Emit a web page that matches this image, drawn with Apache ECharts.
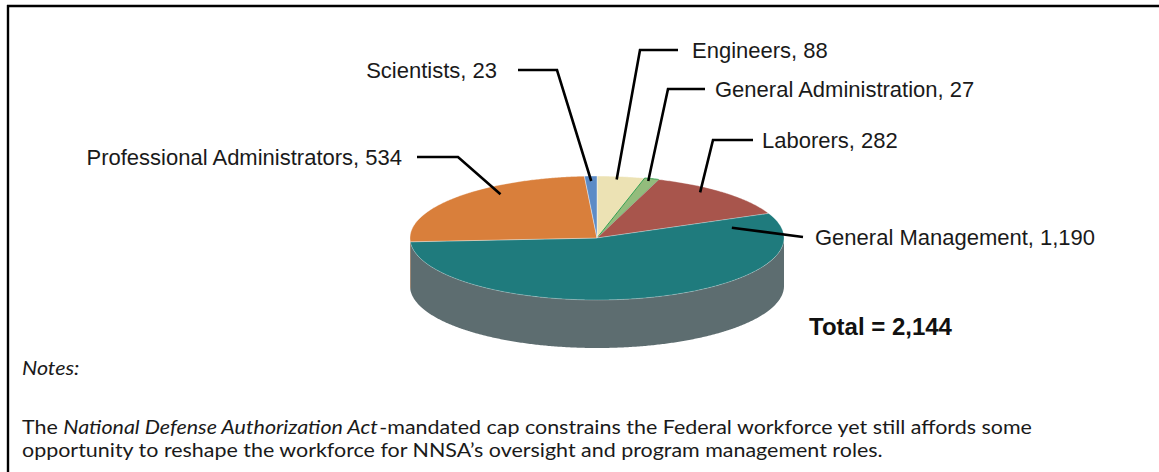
<!DOCTYPE html>
<html>
<head>
<meta charset="utf-8">
<script src="https://cdn.jsdelivr.net/npm/echarts@6/dist/echarts.min.js"></script>
<style>
  html, body { margin: 0; padding: 0; background: #ffffff; }
  #chart { width: 1159px; height: 472px; }
</style>
</head>
<body>
<div id="chart"></div>
<script>
// Federal workforce headcount by occupational group (clockwise from 12 o'clock)
const categories = ['Engineers', 'General Administration', 'Laborers', 'General Management', 'Professional Administrators', 'Scientists'];
const headcounts = [88, 27, 282, 1190, 534, 23];

// Slice colours: top face, rim (side wall) and slice outline
const topColors  = ['#ECE2B4', '#93BC7C', '#A8554C', '#1F7B7D', '#D97F3B', '#5C8BC6'];
const sideColors = ['#BDB48C', '#6E9158', '#7E3E37', '#5D6D70', '#A85E29', '#456A98'];
const edgeColors = ['rgba(255,255,255,0.5)', '#36A050', 'rgba(255,255,255,0.35)', 'rgba(255,255,255,0.25)', 'rgba(255,255,255,0.35)', 'rgba(255,255,255,0.4)'];

// Note text beneath the chart
const notesHeading = 'Notes:';
const noteLine1 = ['The ', 'National Defense Authorization Act', '-mandated cap constrains the Federal workforce yet still affords some'];
const noteLine2 = 'opportunity to reshape the workforce for NNSA\u2019s oversight and program management roles.';

// Tilted pie geometry (ellipse radii and rim depth in px)
const pie = { cx: 597, cy: 238, rx: 187, ry: 62, depth: 48, startAngle: 0 };

// Leader-line layout, offsets relative to the pie centre.
// at: position along the slice's arc (0..1), r: fraction of radius for the anchor
const labelLayout = {
  'Scientists':                  { at: 0.50, r: 0.92,  elbow: [-40, -168], tail: [-79, -168],  text: [-100, -168], align: 'right' },
  'Engineers':                   { at: 0.43, r: 0.95,  elbow: [43, -188],  tail: [81, -188],   text: [95, -188],   align: 'left' },
  'General Administration':      { at: 0.40, r: 0.96,  elbow: [71, -149],  tail: [108, -149],  text: [118, -149],  align: 'left' },
  'Laborers':                    { at: 0.37, r: 0.92,  elbow: [116, -98],  tail: [156, -98],   text: [165, -98],   align: 'left' },
  'General Management':          { at: 0.052, r: 0.74, elbow: [206, -1],   tail: [206, -1],    text: [218, -1],    align: 'left' },
  'Professional Administrators': { at: 0.64, r: 0.875, elbow: [-139, -81], tail: [-180, -81],  text: [-195, -81],  align: 'right' }
};

const labelFont = "22px 'Liberation Sans', Arial, sans-serif";
// Notes are set in Lato, widened slightly to the width of the original face
const noteFont = "'Lato', 'Carlito', Calibri, sans-serif";
const noteSize = 18.5;
const noteStretch = 1.16;

const total = headcounts.reduce((a, b) => a + b, 0);
const fmt = v => v.toLocaleString('en-US');

// point on the top (dy = 0) or bottom (dy = depth) rim; theta clockwise from 12 o'clock
function rimPoint(theta, r, dy) {
  const t = theta * Math.PI / 180;
  return [pie.cx + r * pie.rx * Math.sin(t), pie.cy - r * pie.ry * Math.cos(t) + (dy || 0)];
}
function arcPoints(a0, a1, dy) {
  const n = Math.max(2, Math.ceil(Math.abs(a1 - a0) * 2));
  const pts = [];
  for (let k = 0; k <= n; k++) pts.push(rimPoint(a0 + (a1 - a0) * k / n, 1, dy));
  return pts;
}

function renderSlice(params, api) {
  const i = params.dataIndex;
  let before = 0;
  for (let j = 0; j < i; j++) before += headcounts[j];
  const value = api.value(0);
  const a0 = pie.startAngle + before / total * 360;
  const a1 = a0 + value / total * 360;
  const children = [];

  // visible rim wall: the front half of the pie (3 o'clock through 9 o'clock)
  const s = Math.max(a0, 90), e = Math.min(a1, 270);
  if (e > s) {
    const pts = arcPoints(s, e, 0).concat(arcPoints(e, s, pie.depth));
    children.push({
      type: 'polygon', z2: 1, shape: { points: pts },
      style: { fill: sideColors[i] }
    });
  }

  // top face
  children.push({
    type: 'polygon', z2: 10,
    shape: { points: [[pie.cx, pie.cy]].concat(arcPoints(a0, a1, 0)) },
    style: { fill: topColors[i], stroke: edgeColors[i], lineWidth: 1, lineJoin: 'round' }
  });

  // leader line and label
  const lay = labelLayout[categories[i]];
  if (lay) {
    const anchor = rimPoint(a0 + (a1 - a0) * lay.at, lay.r, 0);
    const elbow = [pie.cx + lay.elbow[0], pie.cy + lay.elbow[1]];
    const tail = [pie.cx + lay.tail[0], pie.cy + lay.tail[1]];
    children.push({
      type: 'polyline', z2: 20,
      shape: { points: [anchor, elbow, tail] },
      style: { stroke: '#000000', lineWidth: 2.6, fill: null, lineJoin: 'miter' }
    });
    children.push({
      type: 'text', z2: 20,
      style: {
        x: pie.cx + lay.text[0], y: pie.cy + lay.text[1],
        text: categories[i] + ', ' + fmt(value),
        font: labelFont, fill: '#1a1a1a',
        align: lay.align, verticalAlign: 'middle'
      }
    });
  }
  return { type: 'group', children: children };
}

const chart = echarts.init(document.getElementById('chart'), null, { renderer: 'svg' });
chart.setOption({
  backgroundColor: '#ffffff',
  animation: false,
  series: [{
    type: 'custom',
    coordinateSystem: 'none',
    silent: true,
    renderItem: renderSlice,
    data: categories.map((name, i) => ({ name: name, value: headcounts[i] }))
  }],
  graphic: [
    // panel frame (top and left rules)
    { type: 'line', shape: { x1: 7, y1: 6, x2: 1159, y2: 6 }, style: { stroke: '#000', lineWidth: 2.4 } },
    { type: 'line', shape: { x1: 8, y1: 5, x2: 8, y2: 472 }, style: { stroke: '#000', lineWidth: 2.4 } },
    {
      type: 'text', left: 809, top: 314,
      style: { text: 'Total = ' + fmt(total), font: "bold 24px 'Liberation Sans', Arial, sans-serif", fill: '#111' }
    },
    {
      type: 'text', x: 22, y: 368, scaleX: noteStretch,
      style: { text: notesHeading, font: 'italic ' + noteSize + 'px ' + noteFont, fill: '#1a1a1a', verticalAlign: 'middle' }
    },
    {
      type: 'text', x: 22, y: 427, scaleX: noteStretch,
      style: {
        text: '{n|' + noteLine1[0] + '}{i|' + noteLine1[1] + '}{n|' + noteLine1[2] + '}',
        verticalAlign: 'middle',
        rich: {
          n: { font: noteSize + 'px ' + noteFont, fill: '#1a1a1a' },
          i: { font: 'italic ' + noteSize + 'px ' + noteFont, fill: '#1a1a1a' }
        }
      }
    },
    {
      type: 'text', x: 22, y: 450, scaleX: noteStretch,
      style: { text: noteLine2, font: noteSize + 'px ' + noteFont, fill: '#1a1a1a', verticalAlign: 'middle' }
    }
  ]
});
</script>
</body>
</html>
